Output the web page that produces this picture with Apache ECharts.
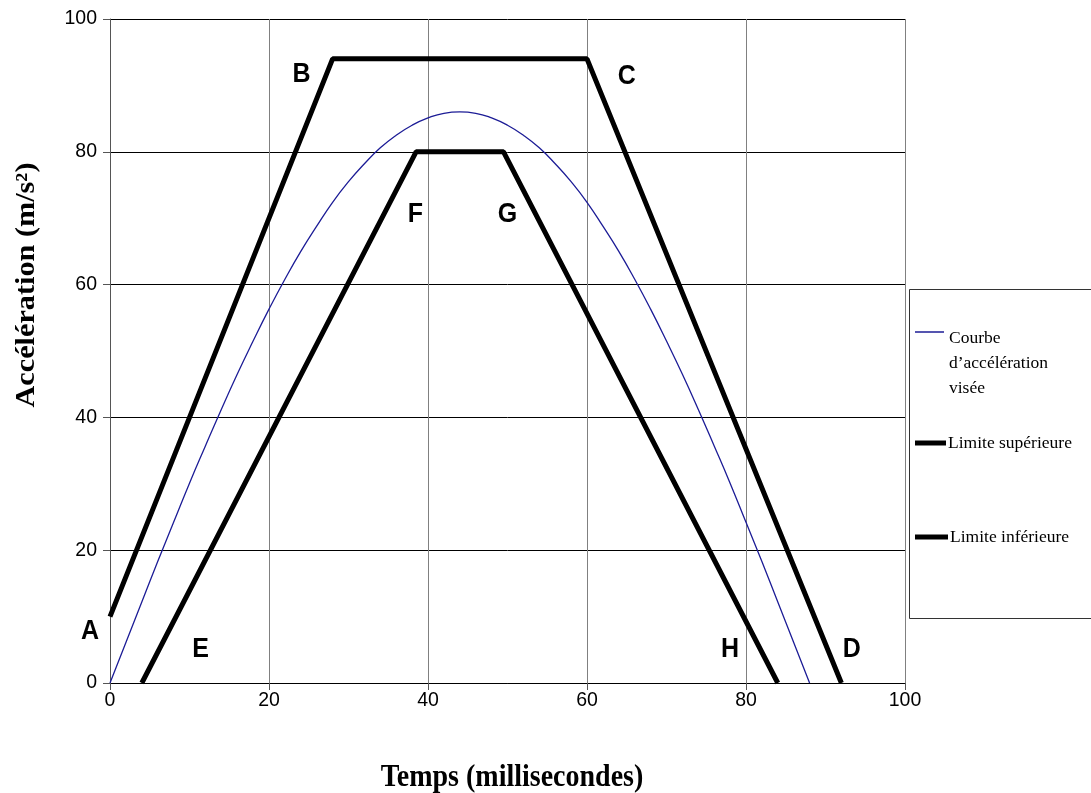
<!DOCTYPE html>
<html>
<head>
<meta charset="utf-8">
<script src="https://cdn.jsdelivr.net/npm/echarts@6/dist/echarts.min.js"></script>
<style>html,body{margin:0;padding:0;background:#fff}#c{width:1091px;height:793px}</style>
</head>
<body>
<div id="c"></div>
<script>
// Target acceleration curve
const curveX = [0,2,4,6,8,10,12,14,16,18,20,22,24,26,28,30,32,34,36,38,40,42,44,46,48,50,52,54,56,58,60,62,64,66,68,70,72,74,76,78,80,82,84,86,88];
const curveY = [0,6.1,12.2,18.3,24.2,30.1,35.7,41.2,46.5,51.5,56.3,60.8,65.0,68.8,72.4,75.5,78.2,80.6,82.5,84.0,85.1,85.8,86.0,85.8,85.1,84.0,82.5,80.6,78.2,75.5,72.4,68.8,65.0,60.8,56.3,51.5,46.5,41.2,35.7,30.1,24.2,18.3,12.2,6.1,0];
// Upper limit A-B-C-D
const upperX = [0, 28, 60, 92];
const upperY = [10, 94, 94, 0];
// Lower limit E-F-G-H
const lowerX = [4, 38.5, 49.5, 84];
const lowerY = [0, 80, 80, 0];
// Point labels (name, x, y in data units)
const pointNames = ['A','B','C','D','E','F','G','H'];
const pointX = [-2.5, 24.1, 65.0, 93.3, 11.4, 38.4, 50.0, 78.0];
const pointY = [7.7, 91.6, 91.3, 5.1, 5.1, 70.6, 70.6, 5.1];
const xTicks = [0,20,40,60,80,100];
const yTicks = [0,20,40,60,80,100];

const zip = (xs, ys) => xs.map((x, i) => [x, ys[i]]);
const chart = echarts.init(document.getElementById('c'));
const serif = '"Liberation Serif","Times New Roman",serif';
const sans = '"Liberation Sans",Arial,sans-serif';

const option = {
  animation: false,
  backgroundColor: '#fff',
  grid: {left: 110, right: 186, top: 19, bottom: 110, containLabel: false},
  xAxis: {
    type: 'value', min: xTicks[0], max: xTicks[xTicks.length-1], interval: 20,
    axisLine: {show: true, onZero: false, lineStyle: {color: '#000', width: 1}},
    axisTick: {show: true, length: 7, lineStyle: {color: '#555'}},
    axisLabel: {fontFamily: sans, fontSize: 19.5, color: '#000', margin: 8},
    splitLine: {show: true, lineStyle: {color: '#808080', width: 1}}
  },
  yAxis: {
    type: 'value', min: yTicks[0], max: yTicks[yTicks.length-1], interval: 20,
    axisLine: {show: true, lineStyle: {color: '#555', width: 1}},
    axisTick: {show: true, length: 7, lineStyle: {color: '#555'}},
    axisLabel: {fontFamily: sans, fontSize: 19.5, color: '#000', margin: 13},
    splitLine: {show: true, lineStyle: {color: '#000', width: 1}}
  },
  series: [
    {name: 'Courbe d\u2019accélération visée', type: 'line', data: zip(curveX, curveY), smooth: true, showSymbol: false,
     lineStyle: {color: '#1c1c96', width: 1.3}, z: 3},
    {name: 'Limite supérieure', type: 'line', data: zip(upperX, upperY), showSymbol: false,
     lineStyle: {color: '#000', width: 5}, z: 4},
    {name: 'Limite inférieure', type: 'line', data: zip(lowerX, lowerY), showSymbol: false,
     lineStyle: {color: '#000', width: 5}, z: 4}
  ]
};
chart.setOption(option);

const g = [];
pointNames.forEach((n, i) => {
  const p = chart.convertToPixel({gridIndex: 0}, [pointX[i], pointY[i]]);
  g.push({type: 'text', x: p[0], y: p[1], z: 10, scaleY: 1.1,
    style: {text: n, font: 'bold 25px ' + sans, fill: '#000', align: 'center', verticalAlign: 'middle'}});
});
// axis titles
g.push({type: 'text', x: 512, y: 778, scaleY: 1.15, style: {text: 'Temps (millisecondes)', font: 'bold 28px ' + serif, fill: '#000', align: 'center', verticalAlign: 'middle'}});
g.push({type: 'text', x: 27, y: 285, rotation: Math.PI/2, scaleX: 1.12, style: {text: 'Accélération (m/s²)', font: 'bold 27px ' + serif, fill: '#000', align: 'center', verticalAlign: 'middle'}});
// legend
g.push({type: 'rect', shape: {x: 909.5, y: 289.5, width: 200, height: 329}, style: {fill: '#fff', stroke: '#333', lineWidth: 1}, z: 5});
g.push({type: 'line', shape: {x1: 915, y1: 332, x2: 944, y2: 332}, style: {stroke: '#1c1c96', lineWidth: 1.5}, z: 6});
g.push({type: 'text', x: 949, y: 326, z: 6, style: {text: 'Courbe\nd\u2019accélération\nvisée', font: '17.5px ' + serif, lineHeight: 25, fill: '#000', align: 'left', verticalAlign: 'top'}});
g.push({type: 'line', shape: {x1: 915, y1: 443, x2: 946, y2: 443}, style: {stroke: '#000', lineWidth: 5}, z: 6});
g.push({type: 'text', x: 948, y: 443, z: 6, style: {text: 'Limite supérieure', font: '17.5px ' + serif, fill: '#000', align: 'left', verticalAlign: 'middle'}});
g.push({type: 'line', shape: {x1: 915, y1: 537, x2: 948, y2: 537}, style: {stroke: '#000', lineWidth: 5}, z: 6});
g.push({type: 'text', x: 950, y: 537, z: 6, style: {text: 'Limite inférieure', font: '17.5px ' + serif, fill: '#000', align: 'left', verticalAlign: 'middle'}});
chart.setOption({graphic: g});
</script>
</body>
</html>
